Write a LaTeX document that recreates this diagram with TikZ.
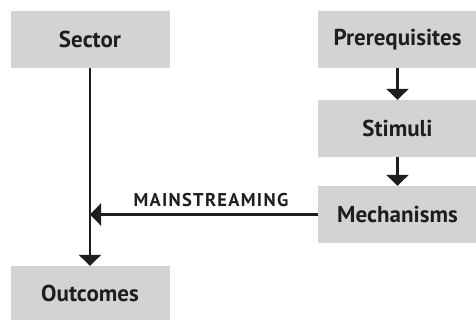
\documentclass[tikz,border=0pt]{standalone}
\usepackage{fontspec}
\setmainfont{PT Sans}
\usetikzlibrary{arrows.meta}
\definecolor{boxgray}{HTML}{D3D3D5}
\definecolor{ink}{HTML}{1E1E1E}
\begin{document}
\begin{tikzpicture}[x=1pt,y=-1pt,
  box/.style={fill=boxgray,draw=none,minimum width=159pt,minimum height=57pt,inner sep=0pt,font=\fontsize{23}{27}\selectfont\bfseries,text=ink},
  conn/.style={draw=ink,line width=2.6pt,-{Triangle[width=22pt,length=11pt]}}]
\useasboundingbox (0,0) rectangle (476,321);
\node[box] (sector) at (90,39.5) {Sector};
\node[box] (prereq) at (397.5,39.5) {Prerequisites};
\node[box] (stimuli) at (397.5,128.5) {Stimuli};
\node[box] (mech) at (397.5,214.5) {Mechanisms};
\node[box,minimum height=54pt] (out) at (90,293) {Outcomes};
\draw[conn] (sector) -- (out);
\draw[conn] (prereq) -- (stimuli);
\draw[conn] (stimuli) -- (mech);
\coordinate (join) at (90,214.5);
\draw[conn] (mech) -- node[above=3pt,xshift=7pt,font=\fontsize{18.5}{22}\selectfont\bfseries\addfontfeature{LetterSpace=7},text=ink]{MAINSTREAMING} (join);
\end{tikzpicture}
\end{document}
